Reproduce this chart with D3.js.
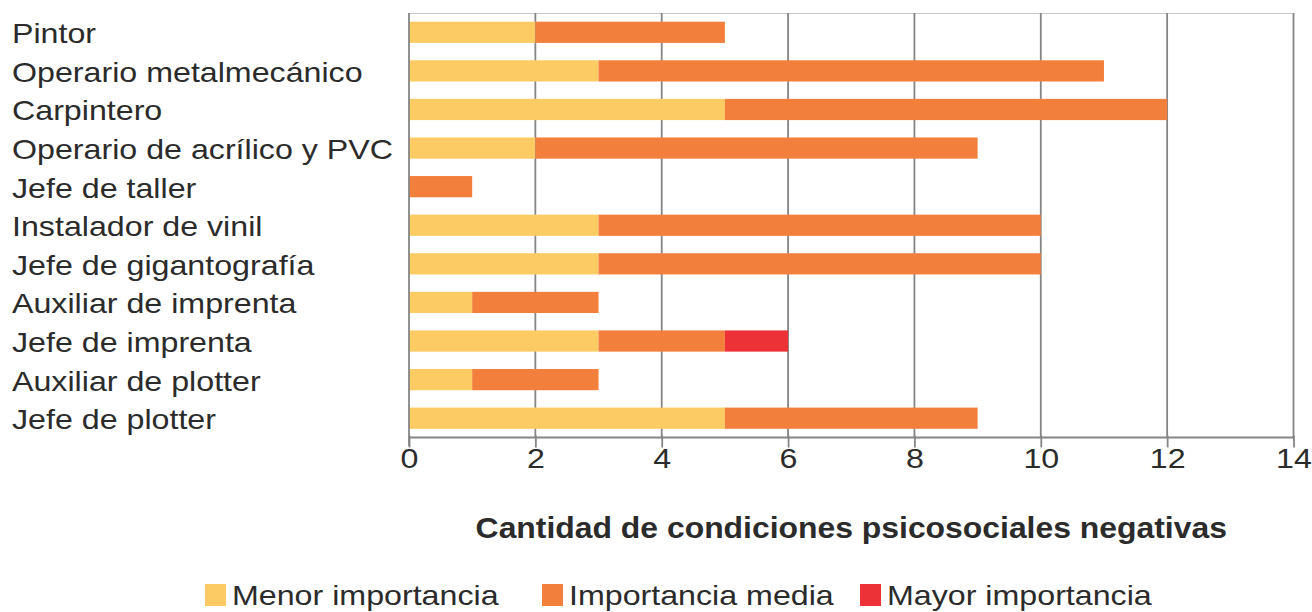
<!DOCTYPE html>
<html lang="es">
<head>
<meta charset="utf-8">
<script src="https://cdn.jsdelivr.net/npm/d3@7"></script>
<style>
  html, body { margin: 0; padding: 0; background: #fff; }
  svg { display: block; }
  text { font-family: "Liberation Sans", Arial, sans-serif; fill: #2b2b2b; }
</style>
</head>
<body>
<svg id="chart" width="1312" height="612"></svg>
<script>
// Puestos de trabajo (de arriba hacia abajo)
const categories = [
  "Pintor",
  "Operario metalmecánico",
  "Carpintero",
  "Operario de acrílico y PVC",
  "Jefe de taller",
  "Instalador de vinil",
  "Jefe de gigantografía",
  "Auxiliar de imprenta",
  "Jefe de imprenta",
  "Auxiliar de plotter",
  "Jefe de plotter"
];

// Cantidad de condiciones por nivel de importancia
const menorImportancia = [2, 3, 5, 2, 0, 3, 3, 1, 3, 1, 5];
const importanciaMedia = [3, 8, 7, 7, 1, 7, 7, 2, 2, 2, 4];
const mayorImportancia = [0, 0, 0, 0, 0, 0, 0, 0, 1, 0, 0];

const seriesNames = ["Menor importancia", "Importancia media", "Mayor importancia"];
const seriesColors = ["#FDCB63", "#F37F3C", "#ED3237"];
const xTicks = [0, 2, 4, 6, 8, 10, 12, 14];
const axisTitle = "Cantidad de condiciones psicosociales negativas";

const rows = categories.map((c, i) => ({
  cat: c,
  "Menor importancia": menorImportancia[i],
  "Importancia media": importanciaMedia[i],
  "Mayor importancia": mayorImportancia[i]
}));

const svg = d3.select("#chart");
const FS = 28.5;     // tamaño de fuente base
const SX = 1.13;     // ensanchamiento horizontal del texto

const x = d3.scaleLinear().domain([0, 14]).range([409, 1293.5]);
const y = d3.scaleBand().domain(categories).range([13, 437.5])
  .paddingInner(0.45).paddingOuter(0.225);

const gridColor = "#858585";

// Borde superior del área de trazado
svg.append("line")
  .attr("x1", x(0)).attr("x2", x(14))
  .attr("y1", 13.5).attr("y2", 13.5)
  .attr("stroke", "#c8c8c8").attr("stroke-width", 1.2);

// Líneas de cuadrícula verticales
svg.append("g").selectAll("line")
  .data(xTicks.filter(d => d > 0))
  .join("line")
  .attr("x1", d => x(d)).attr("x2", d => x(d))
  .attr("y1", 13).attr("y2", 437.5)
  .attr("stroke", gridColor).attr("stroke-width", 1.8);

// Barras apiladas
const stack = d3.stack().keys(seriesNames);
const stacked = stack(rows);
const color = d3.scaleOrdinal().domain(seriesNames).range(seriesColors);

svg.append("g").selectAll("g")
  .data(stacked)
  .join("g")
  .attr("fill", d => color(d.key))
  .selectAll("rect")
  .data(d => d.filter(s => s[1] - s[0] > 0))
  .join("rect")
  .attr("x", d => x(d[0]))
  .attr("width", d => x(d[1]) - x(d[0]))
  .attr("y", d => y(d.data.cat))
  .attr("height", y.bandwidth());

// Eje X
const xAxis = d3.axisBottom(x).tickValues(xTicks).tickSize(10).tickPadding(0).tickFormat(d3.format("d"));
const gx = svg.append("g").attr("transform", "translate(0,437.5)").call(xAxis);
gx.select(".domain").attr("stroke", gridColor).attr("stroke-width", 1.8)
  .attr("d", `M${x(0)},0H${x(14)}`);
gx.selectAll(".tick line").attr("stroke", gridColor).attr("stroke-width", 1.8).attr("y1", -2);
gx.selectAll(".tick text")
  .attr("y", 0)
  .attr("dy", null)
  .attr("font-size", FS)
  .attr("fill", "#2b2b2b")
  .attr("font-family", "Liberation Sans, Arial, sans-serif")
  .attr("transform", `translate(0,30) scale(${SX},1)`);

// Eje Y (línea izquierda)
svg.append("line")
  .attr("x1", x(0)).attr("x2", x(0))
  .attr("y1", 13).attr("y2", 446)
  .attr("stroke", gridColor).attr("stroke-width", 1.8);

// Etiquetas de categorías
svg.append("g").selectAll("text")
  .data(categories)
  .join("text")
  .attr("transform", d => `translate(12,${y(d) + y.bandwidth() / 2 + 11}) scale(${SX},1)`)
  .attr("font-size", FS)
  .text(d => d);

// Título del eje X
svg.append("text")
  .attr("transform", `translate(${(x(0) + x(14)) / 2},538) scale(1.1,1)`)
  .attr("text-anchor", "middle")
  .attr("font-size", 29)
  .attr("font-weight", "bold")
  .attr("fill", "#1a1a1a")
  .text(axisTitle);

// Leyenda
const legendX = [205, 542, 860];
const legend = svg.append("g").selectAll("g")
  .data(seriesNames)
  .join("g")
  .attr("transform", (d, i) => `translate(${legendX[i]},0)`);
legend.append("rect")
  .attr("x", 0).attr("y", 584)
  .attr("width", 21).attr("height", 22)
  .attr("fill", d => color(d));
legend.append("text")
  .attr("transform", `translate(27,605) scale(${SX},1)`)
  .attr("font-size", FS)
  .text(d => d);
</script>
</body>
</html>
